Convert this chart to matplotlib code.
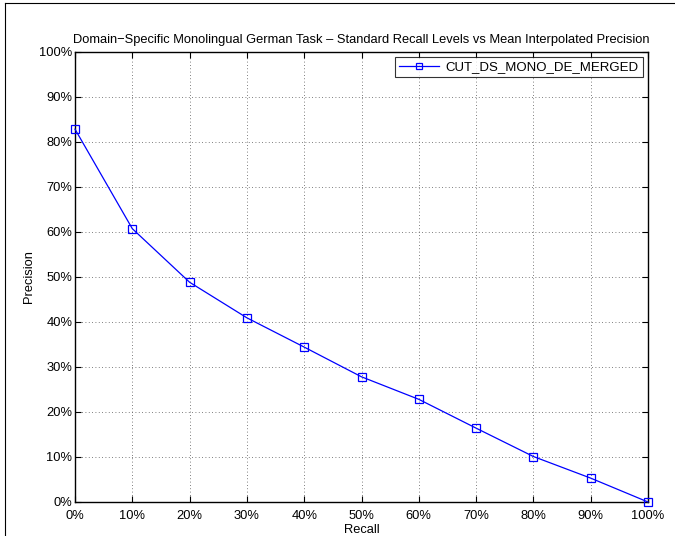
import matplotlib
matplotlib.use("Agg")
import matplotlib.pyplot as plt
from matplotlib.lines import Line2D
from matplotlib.ticker import FuncFormatter

plt.rcParams['font.family'] = ['Liberation Sans', 'DejaVu Sans']

recall = [0, 10, 20, 30, 40, 50, 60, 70, 80, 90, 100]
precision = [82.8, 60.7, 48.8, 40.9, 34.4, 27.8, 22.8, 16.4, 10.1, 5.3, 0.0]
series_name = "CUT_DS_MONO_DE_MERGED"
title = "Domain\u2212Specific Monolingual German Task \u2013 Standard Recall Levels vs Mean Interpolated Precision"

fig = plt.figure(figsize=(6.75, 5.36), dpi=100)
ax = fig.add_axes([75/675, 34/536, 573/675, 450.3/536])

ax.plot(recall, precision, color='#0000ff', lw=0.9, marker='s', markersize=5.5,
        markerfacecolor='none', markeredgecolor='#0000ff', markeredgewidth=0.9,
        label=series_name, clip_on=False, zorder=5)

ax.set_xlim(0, 100)
ax.set_ylim(0, 100)
ax.set_xticks(range(0, 101, 10))
ax.set_yticks(range(0, 101, 10))
fmt = FuncFormatter(lambda v, p: f"{int(v)}%")
ax.xaxis.set_major_formatter(fmt)
ax.yaxis.set_major_formatter(fmt)
ax.tick_params(direction='in', length=4, width=0.8, labelsize=9.3, top=True, right=True)
ax.tick_params(axis='x', pad=6)
ax.tick_params(axis='y', pad=2)
ax.grid(True, color='#555555', linestyle=(0, (1, 3)), linewidth=0.6)
for s in ax.spines.values():
    s.set_linewidth(1.0)

ax.set_xlabel("Recall", fontsize=9.3, labelpad=1)
ax.set_ylabel("Precision", fontsize=9.3, labelpad=3)
ax.set_title(title, fontsize=9.3, pad=6)

leg = ax.legend(loc='upper right', fontsize=9.5, frameon=True, fancybox=False,
                edgecolor='black', borderaxespad=0.4, handlelength=3.0,
                borderpad=0.3, handletextpad=0.5, markerscale=0.75)
leg.get_frame().set_linewidth(0.8)

# partial figure border
fig.add_artist(Line2D([5/675, 5/675], [0, 1 - 3/536], transform=fig.transFigure,
                      color='black', lw=0.8))
fig.add_artist(Line2D([5/675, 1], [1 - 3/536, 1 - 3/536], transform=fig.transFigure,
                      color='black', lw=0.8))

fig.savefig("out.png", dpi=100)
